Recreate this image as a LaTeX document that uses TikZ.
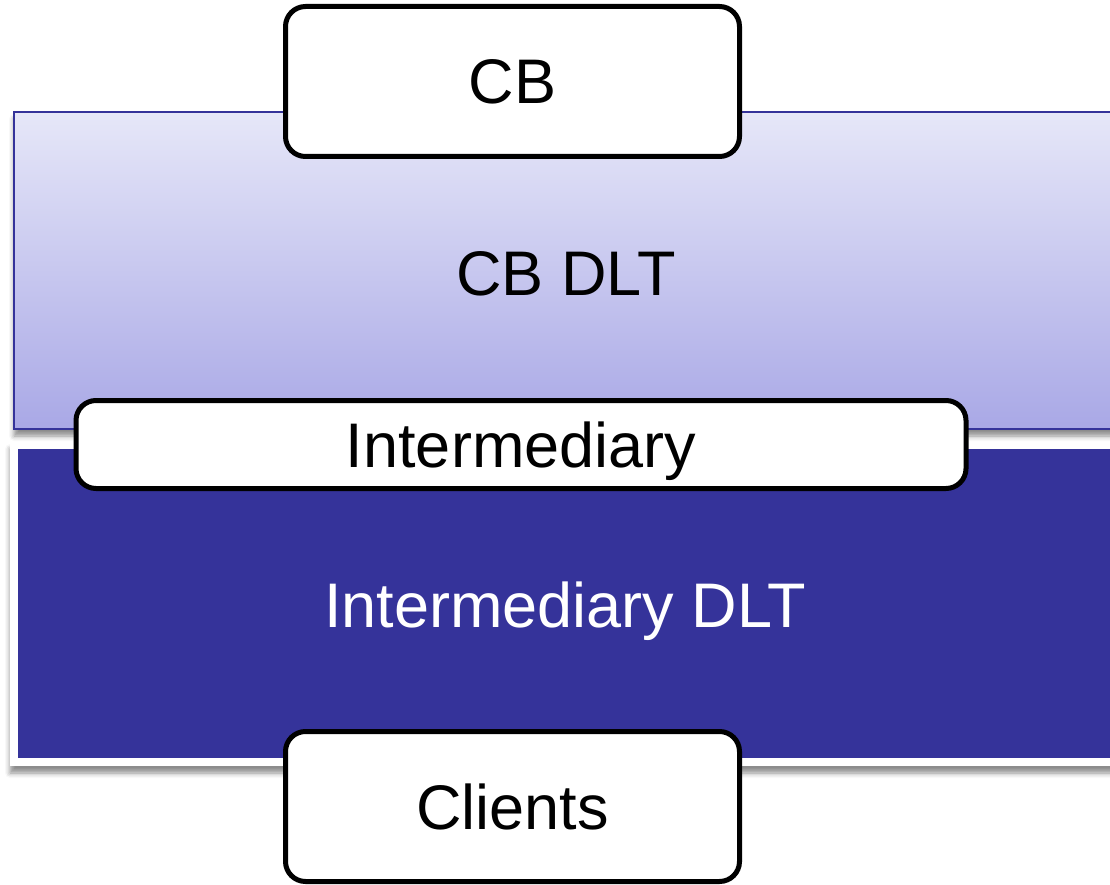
\documentclass[tikz,border=0pt]{standalone}
\usepackage{fontspec}
\setmainfont{Liberation Sans}
\usetikzlibrary{shadows.blur}
\definecolor{layerblue}{HTML}{35339A}
\definecolor{lighttop}{HTML}{E6E7F8}
\definecolor{lightbot}{HTML}{A9A8E6}
\tikzset{
  labelbox/.style={draw=black, line width=5pt, rounded corners=20pt, fill=white,
    font=\fontsize{63}{63}\selectfont, text height=45pt, text depth=0pt, inner sep=0pt},
  layertext/.style={font=\fontsize{63}{63}\selectfont, text height=45pt, text depth=0pt, inner sep=0pt},
  softshadow/.style={blur shadow={shadow xshift=0pt, shadow yshift=-7pt,
    shadow blur radius=5pt, shadow opacity=45}}
}
\begin{document}
\begin{tikzpicture}[x=1pt,y=-1pt]
\useasboundingbox (0,0) rectangle (1110,885);
\clip (0,0) rectangle (1110,885);
% upper layer: central bank ledger
\draw[layerblue, line width=1.6pt, top color=lighttop, bottom color=lightbot, softshadow]
  (14,112) rectangle (1140,429);
\node[layertext] (cbdlt) at (566,273) {CB DLT};
% lower layer: intermediary ledger, framed in white
\fill[white, softshadow] (10,442) rectangle (1140,766);
\fill[layerblue] (18,449) rectangle (1140,758);
\node[layertext, text=white] (imdlt) at (565,605) {Intermediary DLT};
% participant boxes
\node[labelbox, minimum width=454pt, minimum height=150pt] (cb) at (512.5,81.5) {CB};
\node[labelbox, minimum width=890pt, minimum height=88pt] (im) at (521,444.5) {Intermediary};
\node[labelbox, minimum width=454pt, minimum height=150pt] (cl) at (512.5,806.5) {Clients};
\end{tikzpicture}
\end{document}
